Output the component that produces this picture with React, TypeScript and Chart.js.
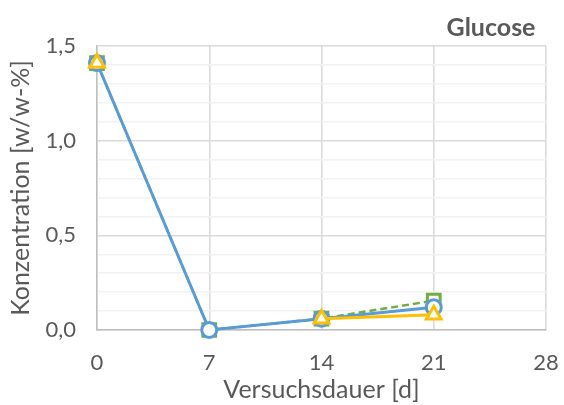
import React, { useEffect, useRef } from "react";
import { Chart, registerables } from "chart.js";

Chart.register(...registerables);

const days = [0, 7, 14, 21];
const seriesBlue = [1.41, 0.0, 0.06, 0.12];
const seriesGreen = [1.41, 0.0, 0.06, 0.155];
const seriesYellow = [1.41, null, 0.06, 0.08];
const xTicks = [0, 7, 14, 21, 28];
const yMajorTicks = [0, 0.5, 1.0, 1.5];
const chartTitle = "Glucose";
const xTitle = "Versuchsdauer [d]";
const yTitle = "Konzentration [w/w-%]";

const FONT = "Lato, 'Open Sans', sans-serif";
const TEXT = "#595959";

function toPoints(vals: (number | null)[]) {
  return days.map((d, i) => ({ x: d, y: vals[i] }));
}

const titlePlugin = {
  id: "cornerTitle",
  afterDraw(chart: any) {
    const ctx = chart.ctx;
    ctx.save();
    ctx.font = `bold 25px ${FONT}`;
    ctx.fillStyle = TEXT;
    ctx.textAlign = "center";
    ctx.textBaseline = "middle";
    ctx.fillText(chartTitle, 491, 28);
    ctx.restore();
  },
};

export default function App() {
  const ref = useRef<HTMLCanvasElement>(null);
  useEffect(() => {
    document.body.style.margin = "0";
    const isMajor = (v: number) => yMajorTicks.some((m) => Math.abs(m - v) < 1e-6);
    const chart = new Chart(ref.current!, {
      type: "line",
      data: {
        datasets: [
          {
            label: "green",
            order: 3,
            clip: false,
            data: toPoints(seriesGreen),
            borderColor: "#70AD47",
            backgroundColor: "#ffffff",
            borderWidth: 2.5,
            borderDash: [7, 4],
            pointStyle: "rect",
            pointRadius: 9,
            pointBorderWidth: 3,
            pointBorderColor: "#70AD47",
            pointBackgroundColor: "#ffffff",
          },
          {
            label: "blue",
            order: 2,
            clip: false,
            data: toPoints(seriesBlue),
            borderColor: "#5B9BD5",
            backgroundColor: "#ffffff",
            borderWidth: 3,
            pointStyle: "circle",
            pointRadius: 7.5,
            pointBorderWidth: 3,
            pointBorderColor: "#5B9BD5",
            pointBackgroundColor: "#ffffff",
          },
          {
            label: "yellow",
            order: 1,
            clip: false,
            data: toPoints(seriesYellow),
            borderColor: "#FFC000",
            backgroundColor: "#ffffff",
            borderWidth: 3,
            pointStyle: "triangle",
            pointRadius: 8.5,
            pointBorderWidth: 3,
            pointBorderColor: "#FFC000",
            pointBackgroundColor: "#ffffff",
            spanGaps: false,
          },
        ],
      },
      options: {
        animation: false,
        responsive: false,
        maintainAspectRatio: false,
        layout: { padding: { top: 46, right: 18, left: 0, bottom: 0 } },
        plugins: { legend: { display: false }, tooltip: { enabled: false }, title: { display: false } },
        scales: {
          x: {
            type: "linear",
            min: 0,
            max: 28,
            afterFit: (s: any) => {
              s.height = 75;
              s.paddingRight = 0;
              s.paddingLeft = 0;
            },
            afterBuildTicks: (s: any) => {
              s.ticks = xTicks.map((v) => ({ value: v }));
            },
            ticks: {
              color: TEXT,
              font: { family: FONT, size: 22 },
              padding: 20,
              callback: (v: any) => String(v),
            },
            grid: { color: "#d9d9d9", lineWidth: 1.5, drawTicks: false },
            border: { color: "#bfbfbf", width: 1.5 },
            title: {
              display: true,
              text: xTitle,
              color: TEXT,
              font: { family: FONT, size: 25 },
              padding: { top: 0, bottom: 0 },
            },
          },
          y: {
            type: "linear",
            min: 0,
            max: 1.5,
            afterFit: (s: any) => {
              s.width = 97;
              s.paddingTop = 0;
              s.paddingBottom = 0;
            },
            ticks: {
              stepSize: 0.1,
              color: TEXT,
              font: { family: FONT, size: 22 },
              padding: 21,
              autoSkip: false,
              callback: (v: any) => (isMajor(Number(v)) ? Number(v).toFixed(1).replace(".", ",") : ""),
            },
            grid: {
              drawTicks: false,
              color: (c: any) => (isMajor(c.tick.value) ? "#d9d9d9" : "#f2f2f2"),
              lineWidth: 1.5,
            },
            border: { color: "#bfbfbf", width: 1.5 },
            title: {
              display: true,
              text: yTitle,
              color: TEXT,
              font: { family: FONT, size: 25 },
              padding: { top: 6, bottom: 0 },
            },
          },
        },
      },
      plugins: [titlePlugin],
    });
    return () => chart.destroy();
  }, []);
  return (
    <div style={{ position: "absolute", left: 0, top: 0, width: 564, height: 405 }}>
      <canvas ref={ref} width={564} height={405} style={{ width: 564, height: 405 }} />
    </div>
  );
}
